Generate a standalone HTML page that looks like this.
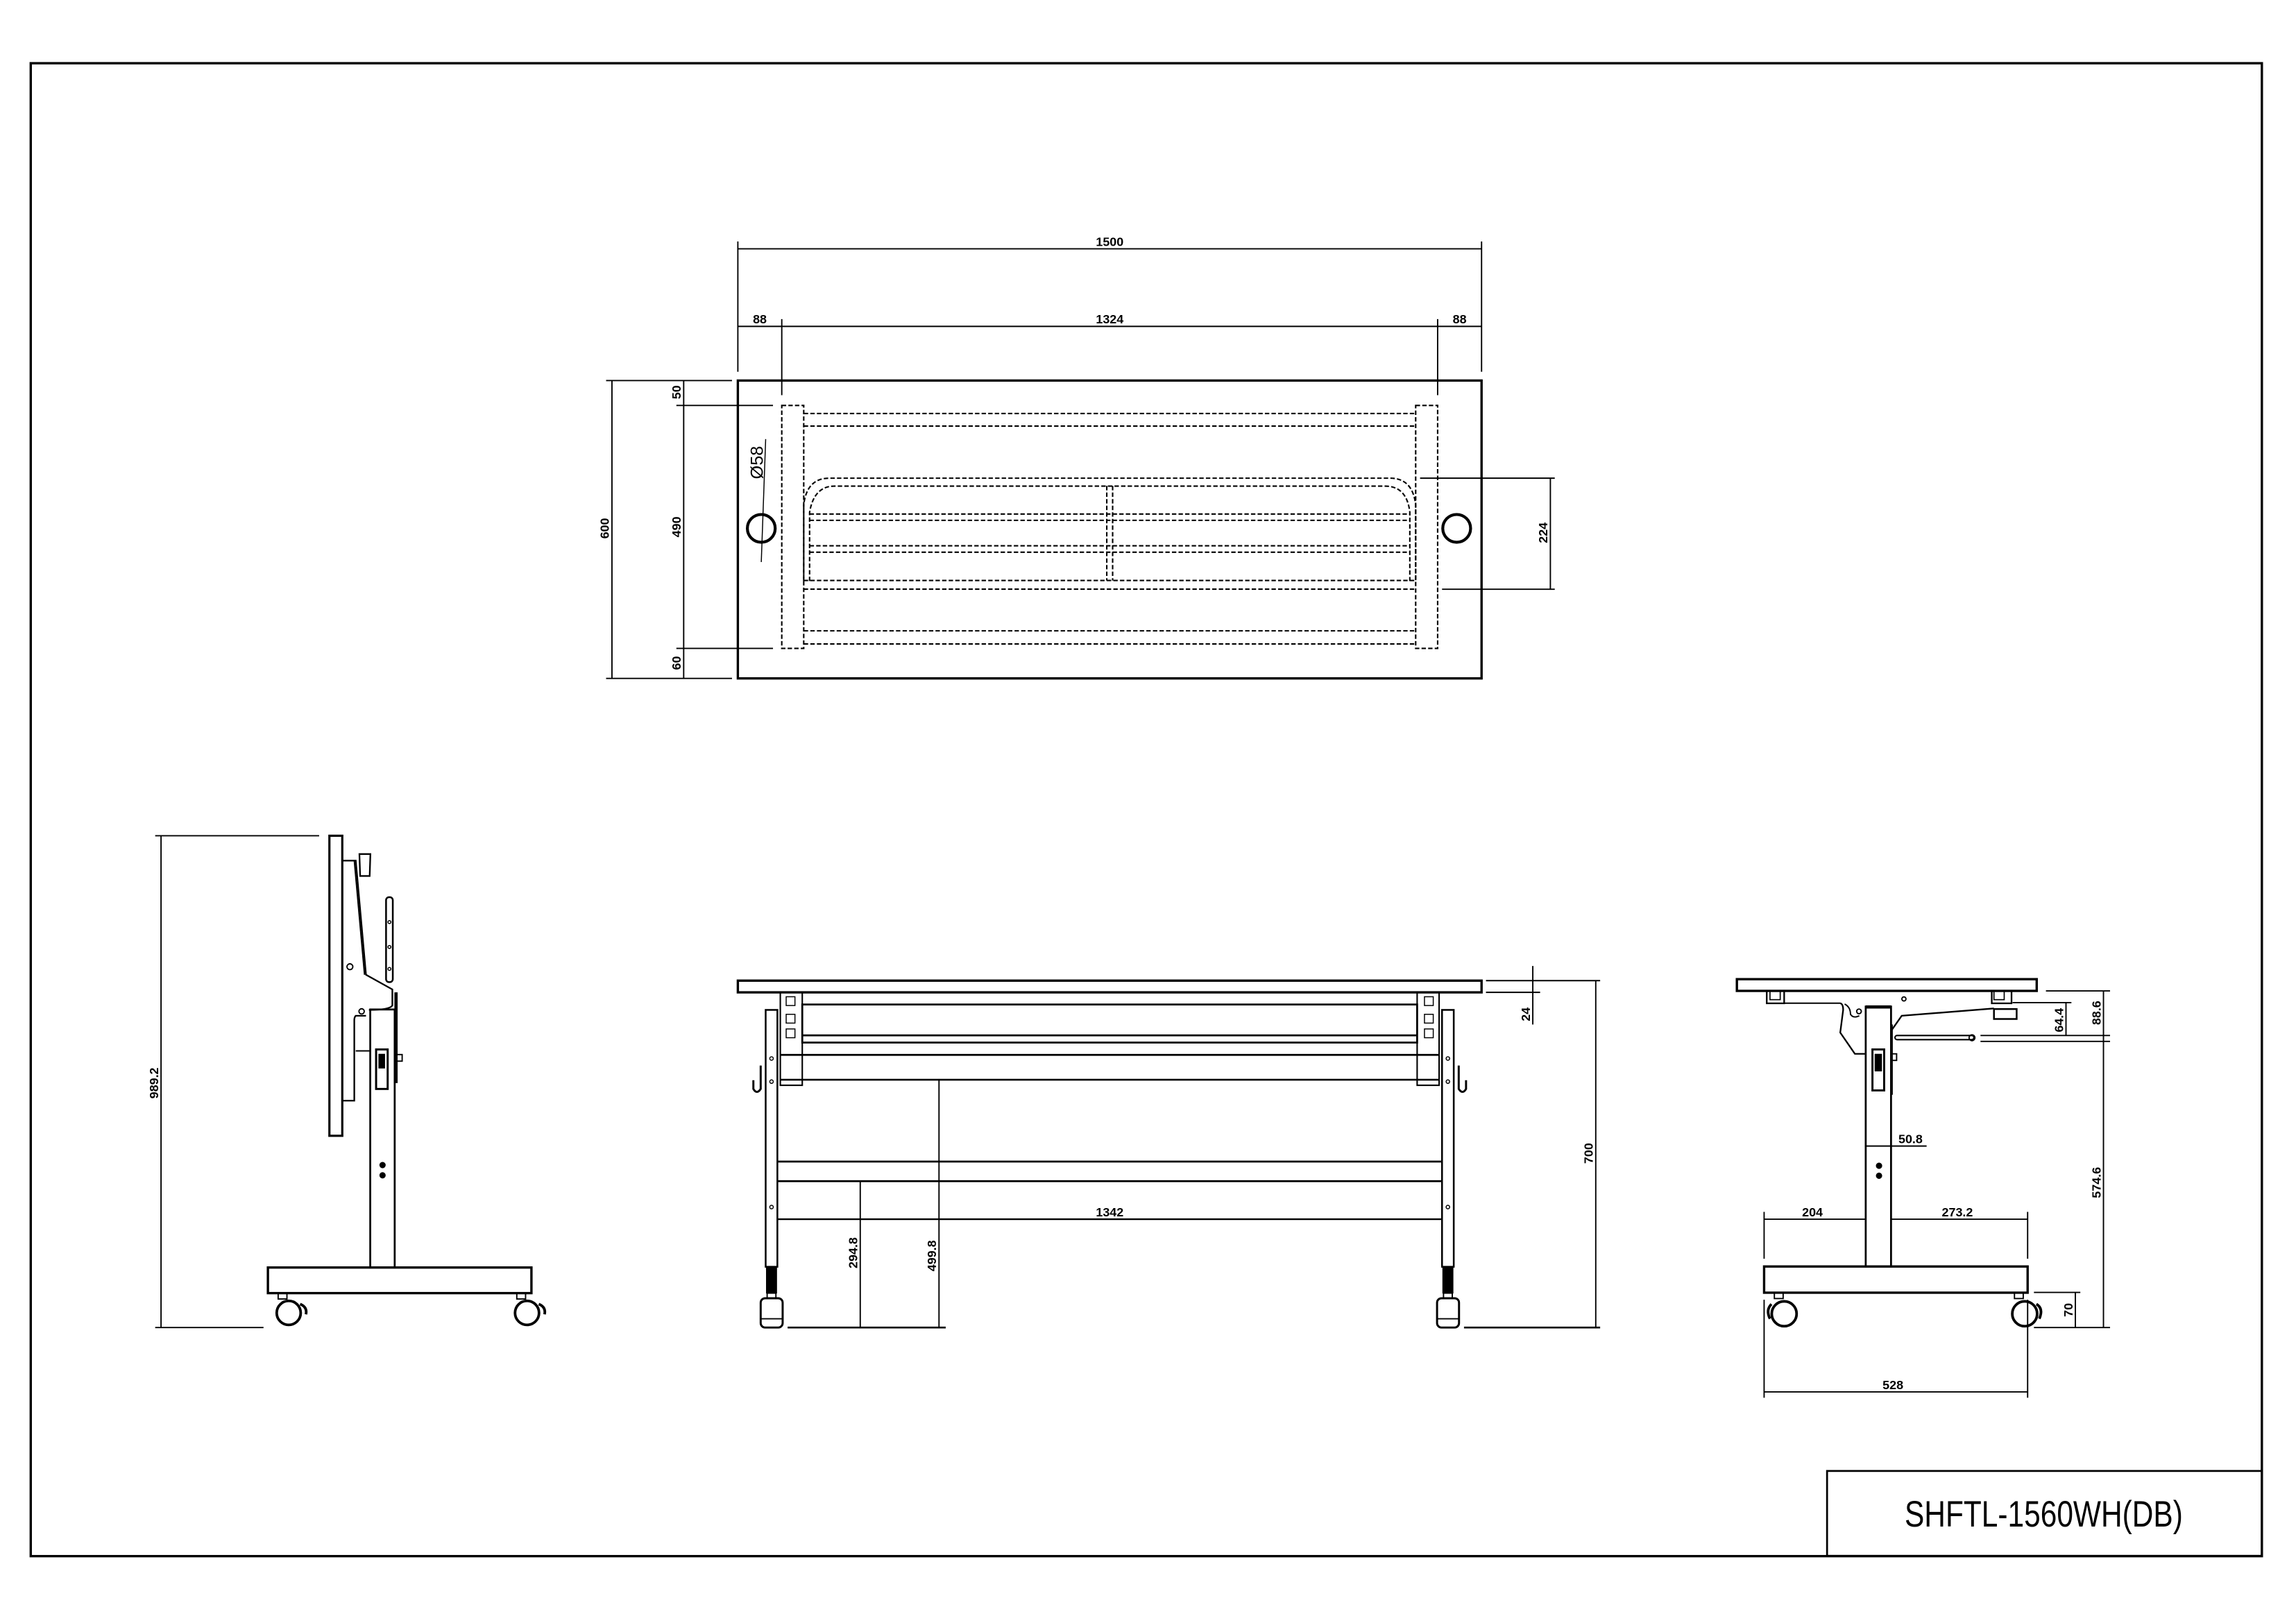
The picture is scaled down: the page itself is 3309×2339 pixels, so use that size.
<!DOCTYPE html>
<html><head><meta charset="utf-8"><style>
html,body{margin:0;padding:0;background:#fff;}
svg{display:block;}
text{font-family:"Liberation Sans",Arial,sans-serif;fill:#000;}
</style></head><body>
<svg width="3309" height="2339" viewBox="0 0 1560 1103" preserveAspectRatio="none" xmlns="http://www.w3.org/2000/svg">
<rect width="1560" height="1103" fill="#fff"/>
<g transform="scale(0.9947)" stroke="#000" fill="none" stroke-width="0.9">
<!-- border -->
<rect x="21" y="43.2" width="1524" height="1020" stroke-width="1.6"/>
<rect x="1248" y="1005" width="297" height="58" stroke-width="1.3"/>
<text x="1396" y="1043" font-size="25" text-anchor="middle" textLength="190" lengthAdjust="spacingAndGlyphs" stroke="none">SHFTL-1560WH(DB)</text>

<!-- ========== TOP VIEW ========== -->
<rect x="504" y="260" width="508" height="203.5" stroke-width="1.6"/>
<g stroke-dasharray="3 1.5" stroke-width="1">
<rect x="534" y="277" width="15" height="166"/>
<rect x="967" y="277" width="15" height="166"/>
<line x1="549" y1="282.5" x2="967" y2="282.5"/>
<line x1="549" y1="291.1" x2="967" y2="291.1"/>
<line x1="549" y1="431" x2="967" y2="431"/>
<line x1="549" y1="440" x2="967" y2="440"/>
<line x1="549" y1="396.6" x2="967" y2="396.6"/>
<line x1="549" y1="402.5" x2="967" y2="402.5"/>
<path d="M549 397 L549 345 Q551 327 566 326.7 L950 326.7 Q965 327 967 345 L967 397"/>
<path d="M553 397 L553 350 Q556 332.1 570 332.1 L946 332.1 Q961 332.1 963 350 L963 397"/>
<line x1="553" y1="351.2" x2="963" y2="351.2"/>
<line x1="553" y1="355.5" x2="963" y2="355.5"/>
<line x1="553" y1="372.9" x2="963" y2="372.9"/>
<line x1="553" y1="377.3" x2="963" y2="377.3"/>
<line x1="756" y1="332" x2="756" y2="396.6"/>
<line x1="760" y1="332" x2="760" y2="396.6"/>
</g>
<circle cx="520" cy="361" r="9.5" stroke-width="2"/>
<circle cx="995" cy="361" r="9.5" stroke-width="2"/>
<line x1="520" y1="384" x2="523" y2="300" stroke-width="0.7"/>
<text transform="translate(521,316) rotate(-90)" font-size="12" text-anchor="middle" stroke="none">Ø58</text>
<!-- top dims -->
<line x1="504" y1="170" x2="1012" y2="170"/>
<line x1="504" y1="165" x2="504" y2="254"/>
<line x1="1012" y1="165" x2="1012" y2="254"/>
<line x1="504" y1="223" x2="1012" y2="223"/>
<line x1="534" y1="218" x2="534" y2="270"/>
<line x1="982" y1="218" x2="982" y2="270"/>
<g font-size="8.5" font-weight="bold" text-anchor="middle" stroke="none">
<text x="758" y="168">1500</text>
<text x="519" y="221">88</text>
<text x="758" y="221">1324</text>
<text x="997" y="221">88</text>
</g>
<!-- left dims -->
<line x1="418" y1="260" x2="418" y2="463.5"/>
<line x1="414" y1="260" x2="500" y2="260"/>
<line x1="414" y1="463.5" x2="500" y2="463.5"/>
<line x1="467" y1="260" x2="467" y2="463.5"/>
<line x1="462" y1="277" x2="528" y2="277"/>
<line x1="462" y1="443" x2="528" y2="443"/>
<line x1="1059" y1="326.7" x2="1059" y2="402.6"/>
<line x1="970" y1="326.7" x2="1062" y2="326.7"/>
<line x1="985" y1="402.6" x2="1062" y2="402.6"/>
<g font-size="8.5" font-weight="bold" text-anchor="middle" stroke="none">
<text transform="translate(416,361) rotate(-90)">600</text>
<text transform="translate(465,268) rotate(-90)">50</text>
<text transform="translate(465,360) rotate(-90)">490</text>
<text transform="translate(465,453) rotate(-90)">60</text>
<text transform="translate(1057,364) rotate(-90)">224</text>
</g>

<!-- ========== FRONT VIEW ========== -->
<rect x="504" y="670" width="508" height="8" stroke-width="1.6"/>
<rect x="548" y="686.3" width="420" height="26" stroke-width="1.3"/>
<line x1="548" y1="707.4" x2="968" y2="707.4" stroke-width="1.3"/>
<rect x="533" y="678" width="15" height="63.5" stroke-width="1"/>
<rect x="968" y="678" width="15" height="63.5" stroke-width="1"/>
<g stroke-width="0.7">
<rect x="537" y="681" width="6" height="6"/><rect x="537" y="693" width="6" height="6"/><rect x="537" y="703" width="6" height="6"/>
<rect x="973" y="681" width="6" height="6"/><rect x="973" y="693" width="6" height="6"/><rect x="973" y="703" width="6" height="6"/>
</g>
<line x1="533" y1="720.7" x2="983" y2="720.7" stroke-width="1.3"/>
<line x1="533" y1="737.7" x2="983" y2="737.7" stroke-width="1.3"/>
<line x1="531" y1="793.6" x2="985" y2="793.6" stroke-width="1.3"/>
<line x1="531" y1="807" x2="985" y2="807" stroke-width="1.3"/>
<rect x="523" y="690" width="8" height="175.5" stroke-width="1.2"/>
<rect x="985" y="690" width="8" height="175.5" stroke-width="1.2"/>
<rect x="523.5" y="865.5" width="7" height="18" fill="#000" stroke-width="0.5"/>
<rect x="985.5" y="865.5" width="7" height="18" fill="#000" stroke-width="0.5"/>
<rect x="519.6" y="887" width="15" height="20" rx="3" stroke-width="1.4"/>
<rect x="981.6" y="887" width="15" height="20" rx="3" stroke-width="1.4"/>
<line x1="519.6" y1="901" x2="534.6" y2="901"/><line x1="981.6" y1="901" x2="996.6" y2="901"/>
<rect x="524" y="883.5" width="6" height="3.5"/><rect x="986" y="883.5" width="6" height="3.5"/>
<path d="M519.6 728 L519.6 744 Q517 748 514.6 744 L514.6 738" stroke-width="1.4"/>
<path d="M996.4 728 L996.4 744 Q999 748 1001.4 744 L1001.4 738" stroke-width="1.4"/>
<g stroke-width="0.7">
<circle cx="527" cy="723.2" r="1.2"/><circle cx="527" cy="739" r="1.2"/><circle cx="527" cy="824.7" r="1.2"/>
<circle cx="989" cy="723.2" r="1.2"/><circle cx="989" cy="739" r="1.2"/><circle cx="989" cy="824.7" r="1.2"/>
</g>
<line x1="531" y1="833" x2="985" y2="833" stroke-width="1.1"/>
<line x1="587.6" y1="807" x2="587.6" y2="907"/>
<line x1="641.4" y1="737.7" x2="641.4" y2="907"/>
<line x1="538" y1="907" x2="646" y2="907" stroke-width="1.2"/>
<line x1="1047" y1="660" x2="1047" y2="700"/>
<line x1="1015" y1="670" x2="1093" y2="670"/>
<line x1="1015" y1="678" x2="1052" y2="678"/>
<line x1="1090" y1="670" x2="1090" y2="907"/>
<line x1="1000" y1="907" x2="1093" y2="907" stroke-width="1.2"/>
<g font-size="8.5" font-weight="bold" text-anchor="middle" stroke="none">
<text x="758" y="831">1342</text>
<text transform="translate(585.6,856) rotate(-90)">294.8</text>
<text transform="translate(639.4,858) rotate(-90)">499.8</text>
<text transform="translate(1045,693) rotate(-90)">24</text>
<text transform="translate(1088,788) rotate(-90)">700</text>
</g>

<!-- ========== LEFT SIDE VIEW ========== -->
<rect x="225" y="571" width="8.8" height="205" stroke-width="1.5"/>
<path d="M233.8 588 L243 588 L250 666 L268 676 L268 687 Q266 690 252 690" stroke-width="1.1"/>
<path d="M242 588 L249 666" stroke-width="0.9"/>
<path d="M245.5 583.5 L253 583.5 L252.5 598.5 L246 598.5 Z" stroke-width="1.1"/>
<circle cx="247" cy="691" r="1.8" stroke-width="0.9"/>
<path d="M250 694 L243 694 Q242 695 242 697 L242 752 L233.8 752" stroke-width="1.1"/>
<line x1="243" y1="718" x2="253" y2="718" stroke-width="0.9"/>
<rect x="263.7" y="613" width="4.6" height="58" rx="2" stroke-width="1.2"/>
<circle cx="266" cy="630" r="1" stroke-width="0.7"/><circle cx="266" cy="647" r="1" stroke-width="0.7"/><circle cx="266" cy="662" r="1" stroke-width="0.7"/>
<circle cx="239" cy="660.5" r="2" stroke-width="0.9"/>
<rect x="252.9" y="689.7" width="16.7" height="176.3" stroke-width="1.3"/>
<line x1="270.5" y1="678" x2="270.5" y2="740" stroke-width="2.2"/>
<rect x="256.9" y="717" width="7.9" height="27" stroke-width="1.4"/>
<rect x="258.5" y="720" width="4.5" height="10" fill="#000" stroke="none"/>
<rect x="271" y="720.5" width="3.7" height="4.5" stroke-width="0.9"/>
<circle cx="261.3" cy="796" r="1.7" fill="#000"/><circle cx="261.3" cy="803" r="1.7" fill="#000"/>
<rect x="183" y="866" width="180" height="17.5" stroke-width="1.6"/>
<circle cx="197.2" cy="897" r="8.2" stroke-width="1.8"/>
<circle cx="360" cy="897" r="8.2" stroke-width="1.8"/>
<path d="M205 891 Q210 893 209 898" stroke-width="1.8"/>
<path d="M368 891 Q373 893 372 898" stroke-width="1.8"/>
<rect x="190" y="883.5" width="6" height="4" stroke-width="0.9"/>
<rect x="353" y="883.5" width="6" height="4" stroke-width="0.9"/>
<line x1="110" y1="571" x2="110" y2="907"/>
<line x1="106" y1="571" x2="218" y2="571"/>
<line x1="106" y1="907" x2="180" y2="907"/>
<text transform="translate(108,740) rotate(-90)" font-size="8.5" font-weight="bold" text-anchor="middle" stroke="none">989.2</text>

<!-- ========== RIGHT SIDE VIEW ========== -->
<rect x="1186.4" y="669" width="204.8" height="8" stroke-width="1.6"/>
<rect x="1206.8" y="677" width="11.9" height="8.5" stroke-width="1.1"/>
<rect x="1209" y="677" width="7" height="6" stroke-width="0.8"/>
<rect x="1360.5" y="677" width="13.5" height="8.5" stroke-width="1.1"/>
<rect x="1362" y="677" width="7" height="6" stroke-width="0.8"/>
<line x1="1218.7" y1="685.4" x2="1257" y2="685.4" stroke-width="1"/>
<path d="M1257 685.4 Q1259 686 1259 690 L1257 705.5 L1267 720 L1274 720" stroke-width="1.1"/>
<path d="M1260 686 Q1264 688 1264 693 Q1266 696 1270 694" stroke-width="0.9"/>
<circle cx="1269.8" cy="691" r="1.6" stroke-width="0.9"/>
<circle cx="1300.5" cy="682.5" r="1.4" stroke-width="0.9"/>
<rect x="1274.4" y="687.7" width="17.3" height="177.6" stroke-width="1.3"/>
<line x1="1274.4" y1="688" x2="1291.7" y2="688" stroke-width="2.2"/>
<path d="M1292 704 L1299 694 L1362 689" stroke-width="1.1"/>
<rect x="1362" y="689.4" width="15.5" height="6.8" stroke-width="1.2"/>
<line x1="1292" y1="700" x2="1292" y2="748" stroke-width="1.8"/>
<rect x="1294.4" y="707.5" width="53.9" height="2.8" rx="1.4" stroke-width="1"/>
<circle cx="1347" cy="709" r="2" stroke-width="0.9"/>
<rect x="1279" y="717" width="8" height="28" stroke-width="1.4"/>
<rect x="1280.5" y="720" width="5" height="12" fill="#000" stroke="none"/>
<rect x="1292" y="720" width="3.5" height="4.5" stroke-width="0.9"/>
<circle cx="1283.5" cy="796.5" r="1.7" fill="#000"/><circle cx="1283.5" cy="803.3" r="1.7" fill="#000"/>
<rect x="1205" y="865.3" width="180" height="17.9" stroke-width="1.6"/>
<circle cx="1218.7" cy="897.6" r="8.5" stroke-width="1.8"/>
<circle cx="1383" cy="897.6" r="8.5" stroke-width="1.8"/>
<path d="M1210 891 Q1206 895 1209 901" stroke-width="1.8"/>
<path d="M1391 891 Q1396 894 1393 901" stroke-width="1.8"/>
<rect x="1212" y="883.2" width="6" height="4" stroke-width="0.9"/>
<rect x="1376" y="883.2" width="6" height="4" stroke-width="0.9"/>
<line x1="1436.8" y1="677" x2="1436.8" y2="907"/>
<line x1="1397.5" y1="677" x2="1441.3" y2="677"/>
<line x1="1352.8" y1="707.5" x2="1441.3" y2="707.5"/>
<line x1="1352.8" y1="711.5" x2="1441.3" y2="711.5"/>
<line x1="1411.2" y1="685" x2="1411.2" y2="707.5"/>
<line x1="1374.7" y1="685" x2="1414.9" y2="685"/>
<line x1="1389.3" y1="907" x2="1441.3" y2="907"/>
<line x1="1417.6" y1="883" x2="1417.6" y2="907"/>
<line x1="1389.3" y1="883" x2="1421" y2="883"/>
<line x1="1274.4" y1="783" x2="1316" y2="783"/>
<line x1="1205" y1="833" x2="1274.4" y2="833"/>
<line x1="1291.7" y1="833" x2="1385" y2="833"/>
<line x1="1205" y1="828" x2="1205" y2="860"/>
<line x1="1385" y1="828" x2="1385" y2="860"/>
<line x1="1205" y1="888" x2="1205" y2="955"/>
<line x1="1385" y1="888" x2="1385" y2="955"/>
<line x1="1205" y1="951" x2="1385" y2="951"/>
<g font-size="8.5" font-weight="bold" text-anchor="middle" stroke="none">
<text transform="translate(1434.8,692) rotate(-90)">88.6</text>
<text transform="translate(1409.2,697) rotate(-90)">64.4</text>
<text transform="translate(1434.8,808) rotate(-90)">574.6</text>
<text transform="translate(1415.6,895) rotate(-90)">70</text>
<text x="1305" y="781">50.8</text>
<text x="1238" y="831">204</text>
<text x="1337" y="831">273.2</text>
<text x="1293" y="949">528</text>
</g>
</g>
</svg>
</body></html>
